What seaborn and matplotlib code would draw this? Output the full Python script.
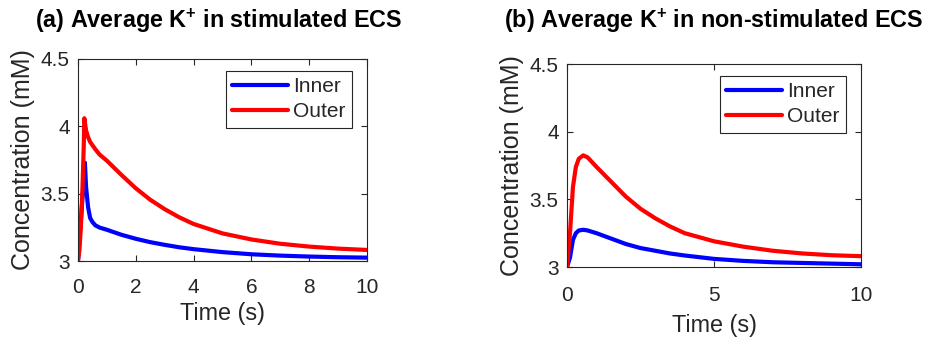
import numpy as np
import pandas as pd
import matplotlib
matplotlib.use("Agg")
import matplotlib.pyplot as plt
import seaborn as sns

# ---- data ----
time_a = [0, 0.05, 0.1, 0.15, 0.2, 0.22, 0.24, 0.28, 0.35, 0.42, 0.5, 0.6, 0.75,
          1, 1.5, 2, 2.5, 3, 3.5, 4, 5, 6, 7, 8, 9, 10]
inner_a = [3.0, 3.15, 3.30, 3.45, 3.60, 3.67, 3.73, 3.55, 3.40, 3.32, 3.29, 3.265, 3.248,
           3.232, 3.195, 3.165, 3.14, 3.12, 3.102, 3.088, 3.066, 3.05, 3.04, 3.033, 3.028, 3.025]
outer_a = [3.0, 3.08, 3.25, 3.50, 3.85, 4.06, 4.03, 3.97, 3.92, 3.885, 3.86, 3.83, 3.79,
           3.745, 3.64, 3.54, 3.455, 3.385, 3.325, 3.275, 3.205, 3.16, 3.128, 3.107, 3.092, 3.082]

time_b = [0, 0.1, 0.2, 0.3, 0.4, 0.55, 0.7, 1, 1.5, 2, 2.5, 3, 3.5, 4, 5, 6, 7, 8, 9, 10]
inner_b = [3.0, 3.07, 3.20, 3.25, 3.27, 3.275, 3.27, 3.25, 3.21, 3.17, 3.14, 3.12, 3.10,
           3.085, 3.06, 3.045, 3.035, 3.03, 3.025, 3.02]
outer_b = [3.0, 3.25, 3.59, 3.74, 3.80, 3.825, 3.81, 3.74, 3.63, 3.52, 3.43, 3.36, 3.30,
           3.25, 3.19, 3.15, 3.12, 3.10, 3.087, 3.08]

series_names = ["Inner", "Outer"]
titles = [r"(a) Average K$^{\mathbf{+}}$ in stimulated ECS",
          r"(b) Average K$^{\mathbf{+}}$ in non-stimulated ECS"]
xticks_a = [0, 2, 4, 6, 8, 10]
xticks_b = [0, 5, 10]
yticks = [3, 3.5, 4, 4.5]
ytick_labels = ["3", "3.5", "4", "4.5"]

# ---- style ----
sns.set_style("white")
plt.rcParams["font.family"] = ["Liberation Sans", "DejaVu Sans"]
plt.rcParams["mathtext.fontset"] = "custom"
plt.rcParams["mathtext.rm"] = "Liberation Sans"
plt.rcParams["mathtext.bf"] = "Liberation Sans:bold"
dark = "#262626"
palette = {"Inner": "#0000ff", "Outer": "#ff0000"}

fig = plt.figure(figsize=(9.27, 3.41), dpi=100)
ax_a = fig.add_axes([0.0841, 0.2346, 0.3118, 0.5924])
ax_b = fig.add_axes([0.6117, 0.217, 0.3172, 0.5953])


def make_df(t, inner, outer):
    return pd.DataFrame({
        "Time": list(t) + list(t),
        "Conc": list(inner) + list(outer),
        "Series": [series_names[0]] * len(t) + [series_names[1]] * len(t),
    })


panels = [
    (ax_a, make_df(time_a, inner_a, outer_a), xticks_a, (0.948, 0.9406), 219, 28, 12.5, 3.5),
    (ax_b, make_df(time_b, inner_b, outer_b), xticks_b, (0.949, 0.941), 714, 28, 13.5, 6.5),
]

for i, (ax, df, xt, legpos, tx, ty, xpad, xlpad) in enumerate(panels):
    sns.lineplot(data=df, x="Time", y="Conc", hue="Series", palette=palette,
                 estimator=None, sort=False, linewidth=3.0, ax=ax)
    ax.set_xlim(0, 10)
    ax.set_ylim(3, 4.5)
    ax.set_xticks(xt)
    ax.set_xticklabels([str(v) for v in xt])
    ax.set_yticks(yticks)
    ax.set_yticklabels(ytick_labels)
    ax.tick_params(direction="in", length=4, width=0.8, colors=dark,
                   labelsize=15, top=True, right=True, bottom=True, left=True)
    ax.tick_params(axis="x", pad=xpad)
    ax.tick_params(axis="y", pad=6)
    for sp in ax.spines.values():
        sp.set_visible(True)
        sp.set_color(dark)
        sp.set_linewidth(0.8)
    ax.set_xlabel("Time (s)", fontsize=16.8, color=dark, labelpad=xlpad)
    ax.set_ylabel("Concentration (mM)", fontsize=18, color=dark, labelpad=4)
    leg = ax.legend(loc="upper right", bbox_to_anchor=legpos, fontsize=15,
                    frameon=True, fancybox=False, framealpha=1,
                    edgecolor=dark, handlelength=2.7, handletextpad=0.25,
                    labelspacing=0.3, borderpad=0.3, borderaxespad=0)
    leg.get_frame().set_linewidth(0.8)
    for line in leg.get_lines():
        line.set_linewidth(3.0)
    fig.text(tx / 927, 1 - ty / 341, titles[i], ha="center", va="baseline",
             fontsize=16.8, fontweight="bold", color="black")

fig.savefig("out.png", dpi=100)
